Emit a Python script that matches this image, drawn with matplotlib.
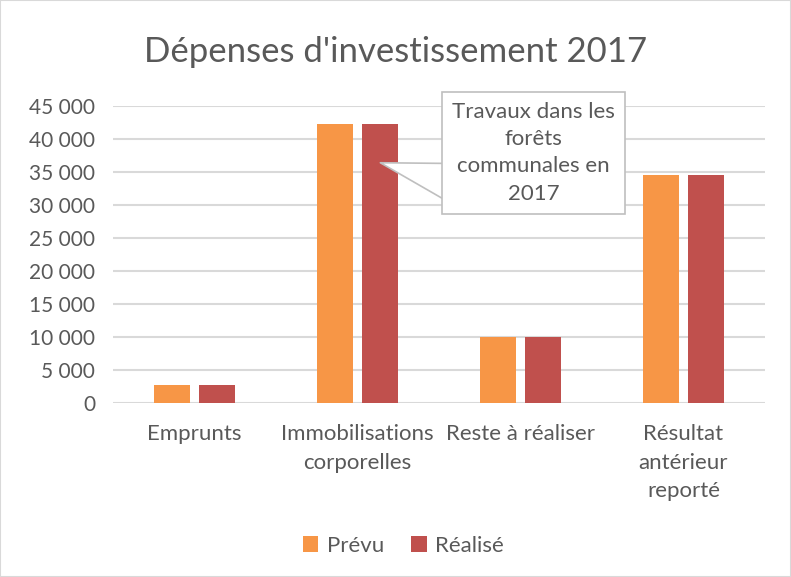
import matplotlib.pyplot as plt
import numpy as np
from matplotlib.patches import Rectangle

plt.rcParams['font.family'] = ['Lato', 'DejaVu Sans']

# data
categories = ['Emprunts', 'Immobilisations\ncorporelles', 'Reste à réaliser',
              'Résultat\nantérieur\nreporté']
prevu = [2700, 42300, 10000, 34500]
realise = [2700, 42300, 10000, 34500]
yticks = [0, 5000, 10000, 15000, 20000, 25000, 30000, 35000, 40000, 45000]
ytick_labels = ['0', '5 000', '10 000', '15 000', '20 000', '25 000',
                '30 000', '35 000', '40 000', '45 000']
title = "Dépenses d'investissement 2017"
callout = 'Travaux dans les\nforêts\ncommunales en\n2017'

grey = '#595959'
fig = plt.figure(figsize=(7.91, 5.77), dpi=100)
fig.patches.append(Rectangle((0, 0), 1, 1, transform=fig.transFigure,
                             fill=False, ec='#d9d9d9', lw=1.5))
ax = fig.add_axes([0.143, 0.3016, 0.824, 0.5147])

x = np.arange(len(categories))
w = 0.22
ax.bar(x - 0.14, prevu, w, color='#F79646', label='Prévu', zorder=3)
ax.bar(x + 0.14, realise, w, color='#C0504D', label='Réalisé', zorder=3)

ax.set_xlim(-0.5, 3.5)
ax.set_ylim(0, 45000)
ax.set_yticks(yticks)
ax.set_yticklabels(ytick_labels)
ax.set_xticks(x)
ax.set_xticklabels(categories)
ax.tick_params(length=0, colors=grey)
ax.tick_params(axis='x', pad=15, labelsize=16)
ax.tick_params(axis='y', pad=13, labelsize=15)
for lab in ax.get_xticklabels():
    lab.set_linespacing(1.55)
ax.grid(axis='y', color='#d9d9d9', lw=1.5, zorder=0)
for s in ax.spines.values():
    s.set_visible(False)

fig.text(0.5, 0.91, title, ha='center', va='center', fontsize=25, color=grey)

# callout pointer, then the box on top of it
ax.annotate('', xy=(1.14, 36400), xytext=(1.69, 32700), fontsize=10, zorder=5,
            annotation_clip=False,
            arrowprops=dict(arrowstyle='wedge,tail_width=3.5', fc='white',
                            ec='#bfbfbf', lw=1.2, shrinkA=0, shrinkB=0))
ax.text(2.08, 37900, callout, ha='center', va='center', fontsize=16,
        color=grey, linespacing=1.45, zorder=6,
        bbox=dict(boxstyle='square,pad=0.45', fc='white', ec='#bfbfbf', lw=1.2))

fig.legend(loc='center', bbox_to_anchor=(0.51, 0.054), ncol=2, frameon=False,
           fontsize=16, labelcolor=grey, handlelength=0.7, handleheight=0.7,
           handletextpad=0.4, columnspacing=1.2)

fig.savefig('out.png', dpi=100)
